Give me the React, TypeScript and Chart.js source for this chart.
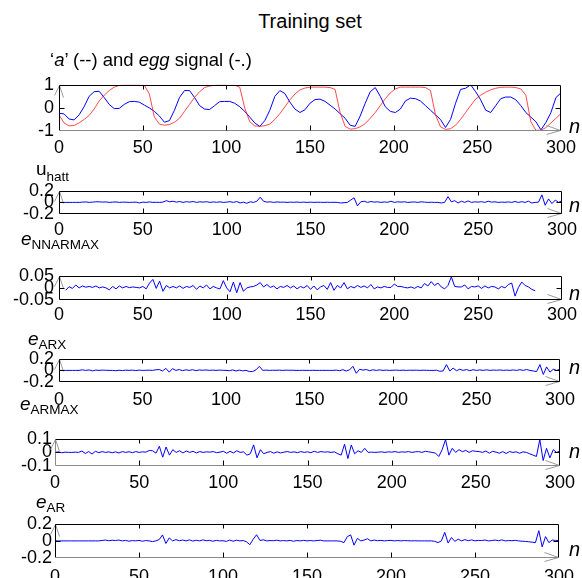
import React, { useEffect, useRef } from "react";
import { Chart, registerables } from "chart.js";
Chart.register(...registerables);

const FONT = "'Liberation Sans', Arial, Helvetica, sans-serif";

const xTicks = [0, 50, 100, 150, 200, 250, 300];

// top panel sample positions (every 3rd sample)
const nA = [0,3,6,9,12,15,18,21,24,27,30,33,36,39,42,45,48,51,54,57,60,63,66,69,72,75,78,81,84,87,90,93,96,99,102,105,108,111,114,117,120,123,126,129,132,135,138,141,144,147,150,153,156,159,162,165,168,171,174,177,180,183,186,189,192,195,198,201,204,207,210,213,216,219,222,225,228,231,234,237,240,243,246,249,252,255,258,261,264,267,270,273,276,279,282,285,288,291,294,297,300];

const eggSignal = [
  -0.23,-0.26,-0.48,-0.52,-0.3,0.05,0.5,0.7,0.72,0.45,
  0.15,-0.03,-0.02,0.15,0.27,0.28,0.25,0.12,0.0,-0.15,
  -0.35,-0.62,-0.55,-0.1,0.45,0.75,0.75,0.45,0.1,-0.05,
  -0.07,0.1,0.27,0.28,0.28,0.2,0.05,-0.15,-0.4,-0.65,
  -0.8,-0.55,-0.1,0.5,0.75,0.62,0.25,-0.05,-0.2,-0.08,
  0.2,0.36,0.38,0.28,0.12,-0.05,-0.25,-0.45,-0.75,-0.8,
  -0.35,0.2,0.7,0.88,0.5,0.05,-0.15,-0.2,-0.05,0.3,
  0.42,0.4,0.3,0.1,-0.1,-0.3,-0.5,-0.85,-0.5,0.2,
  0.8,0.85,1.0,0.7,0.35,-0.1,-0.2,0.1,0.4,0.47,
  0.47,0.35,0.1,-0.2,-0.4,-0.6,-0.95,-0.63,-0.2,0.45,
  0.65
];

const aSignal = [
  -0.3,-0.65,-0.78,-0.76,-0.65,-0.5,-0.33,-0.05,0.3,0.55,
  0.75,0.9,0.97,1.0,1.0,1.0,1.0,0.98,0.6,-0.4,
  -0.7,-0.75,-0.72,-0.62,-0.45,-0.15,0.15,0.45,0.7,0.88,
  0.95,0.98,1.0,1.0,0.98,0.98,0.9,0.0,-0.6,-0.78,
  -0.8,-0.77,-0.7,-0.5,-0.25,0.05,0.35,0.6,0.78,0.86,
  0.9,0.9,0.9,0.9,0.88,0.8,-0.2,-0.8,-0.92,-0.9,
  -0.82,-0.68,-0.45,-0.2,0.1,0.4,0.65,0.82,0.9,0.9,
  0.9,0.9,0.9,0.88,0.75,-0.3,-0.82,-0.93,-0.9,-0.75,
  -0.5,-0.2,0.1,0.38,0.55,0.68,0.78,0.85,0.89,0.9,
  0.9,0.88,0.82,0.55,-0.6,-0.97,-0.97,-0.85,-0.65,-0.45,
  -0.24
];

// error panels sample positions (every 2nd sample)
const nE = [0,2,4,6,8,10,12,14,16,18,20,22,24,26,28,30,32,34,36,38,40,42,44,46,48,50,52,54,56,58,60,62,64,66,68,70,72,74,76,78,80,82,84,86,88,90,92,94,96,98,100,102,104,106,108,110,112,114,116,118,120,122,124,126,128,130,132,134,136,138,140,142,144,146,148,150,152,154,156,158,160,162,164,166,168,170,172,174,176,178,180,182,184,186,188,190,192,194,196,198,200,202,204,206,208,210,212,214,216,218,220,222,224,226,228,230,232,234,236,238,240,242,244,246,248,250,252,254,256,258,260,262,264,266,268,270,272,274,276,278,280,282,284,286,288,290,292,294,296,298,300];

const uHatt = [
  0,0,0,0,0,0,0,0.005,0.008,0,
  0.005,0.01,0.01,0.005,0.008,0,0.005,0.008,0,0.005,
  0.003,0,0.002,0.005,-0.01,0.005,0,0.008,0,0.002,
  0,0.005,0.03,0.01,0.02,0.005,0.015,0,0.012,0.005,
  0.015,0,0.01,0.005,0.012,0,0.008,0.002,0.01,0,
  0.005,0.012,0,0.015,-0.01,0.005,-0.015,0.01,0,0.02,
  0.09,0.02,0.005,0.01,0,0.008,0.003,0.005,0,0.005,
  0.002,0.006,0,0.005,0,0.004,0,0.003,0.002,0,
  0.003,0,0.002,0,-0.01,-0.005,0,0.04,0.08,-0.06,
  0.01,0.02,0,0.015,0.005,0.01,0,0.008,0.002,0.02,
  0,0.01,0.005,0.01,0,0.005,0.008,0,0.01,0.005,
  0,0.003,0,0,-0.01,0,0.1,0.01,0.03,-0.01,
  0.02,0,0.025,0,0.01,0.005,0.012,0,0.02,0.005,
  0.01,0,0.005,0.002,0.008,0,0.015,0,0.012,0,
  0.02,-0.01,0,0.005,0.13,-0.05,0.06,-0.02,0.04,0,
  0.03
];

const nNN = nE.slice(2, 143);
const eNNARMAX = [
  -0.01,0.005,-0.002,0.012,0,0.008,0.003,0.006,0.002,0.008,
  0,0.004,0,-0.008,0.006,-0.004,0.008,0,0.006,0.001,
  0.004,0.002,0,0.006,-0.004,0.02,0.035,-0.002,0.028,-0.014,
  0.01,0,0.006,0,0.008,-0.002,0.006,0.002,0.01,-0.006,
  0.008,0,0.012,-0.004,0.006,0,-0.004,0.03,0,-0.016,
  0.024,-0.02,0.022,-0.014,0,0.004,0.006,0.012,0.022,0.004,
  0.014,0.002,0.008,-0.004,0.006,0.002,0.01,0,0.008,-0.004,
  0.006,0,0.01,-0.006,0.008,-0.008,0.004,0.01,-0.006,0.022,
  -0.01,0.01,0,0.022,-0.004,0.006,0,0.01,0.002,0.008,
  0,0.014,-0.004,0.004,0,0.006,0.002,0.002,0.016,0.006,
  0.006,0.002,0,0.004,-0.002,0.006,0,0.018,0.008,0.026,
  0.01,0.02,0.004,-0.004,0.01,0.046,0.006,0.004,0.004,0.012,
  -0.004,0.006,0.004,0.008,-0.002,0.008,0,0.006,0.004,-0.004,
  0.006,0,0.014,0.02,-0.034,0.002,0.024,0.01,0.004,-0.006,
  -0.012
];

const eARX = [
  0,0,0,0,0,0,0,0.01,0,0.008,
  -0.008,0.005,0,0.005,0.002,0,0,-0.005,0.003,-0.003,
  0.004,0,0.004,-0.002,0.005,0,0.002,0.004,0,0.01,
  0.015,-0.01,0.035,-0.03,0.03,0,0.015,-0.005,0.01,0,
  0.012,-0.005,0.008,0.002,0.008,0,0.005,0,0.005,0.002,
  0,-0.005,0.008,-0.01,0.005,-0.008,0,-0.02,-0.02,0.01,
  0.07,0,0.005,0,0.003,0.002,0.004,0,0.004,0.002,
  0.003,0,0,0.002,0,0,0.002,0,0,0.001,
  0,0,0,0.005,-0.005,0.012,-0.01,0.01,0.07,-0.05,
  0.02,0.005,0.015,-0.005,0.01,0,0.008,0,0.005,0,
  0.003,0.005,0,0.004,0,0.003,0.002,0.004,0,0.003,
  0.002,0,0,0.003,-0.015,-0.01,0.1,-0.01,0.04,-0.005,
  0.02,0,0.015,-0.005,0.012,0,0.008,0,0.01,0,
  0.006,0.002,0.008,0,0.005,0,0.008,0,0.012,0,
  0.015,0,-0.01,-0.02,0.1,-0.07,0.06,-0.03,0.02,0,
  0.02
];

const eARMAX = [
  0,0.004,-0.003,0.002,0,0,0.002,0,0.01,-0.008,
  0.006,-0.012,0.008,-0.002,0.006,0,0.004,-0.003,0.004,-0.004,
  0.006,0,0.005,-0.002,0.006,0,0.004,0.002,0.014,0.012,
  -0.006,0.045,-0.035,0.04,-0.02,0.02,0,0.012,-0.004,0.01,
  0,0.008,-0.004,0.006,0,0.004,0.002,0.006,-0.002,0.002,
  0.008,-0.006,0.008,-0.004,0.012,0,0.004,-0.02,-0.01,0.055,
  -0.04,0.02,-0.01,0,0.006,-0.006,0.004,-0.004,0.002,0.006,
  0,0.004,-0.002,0.006,0,0.004,-0.002,0.008,0,0.006,
  0.002,0.004,0,0.004,-0.01,-0.02,0.06,-0.045,0.055,-0.01,
  0.012,0,0.03,0,0.002,0,0.002,0.004,0,0.004,
  0.002,0.006,0,0.004,0.002,0.006,0,0.004,0.006,0,
  0.008,0.004,0,-0.005,-0.03,0.02,0.095,-0.02,0.03,0,
  0.02,0.005,0.015,0,0.012,0.008,0.006,0,0.01,-0.006,
  0.008,0.002,-0.006,0.006,-0.008,0.006,0,0.004,-0.006,0.004,
  0,-0.01,-0.02,-0.03,0.095,-0.06,0.03,-0.04,0.02,0,
  0.01
];

const eAR = [
  0,0,0,0,0,0,0,0,0,0,
  0,0,0,0,0.005,0.01,0.002,0.008,0.004,0.01,
  0,0.006,-0.004,0.004,0,0.006,-0.004,0.004,0,-0.008,
  0,0.015,0.07,-0.03,0.035,0,0.015,0.002,0.01,0,
  0.012,-0.002,0.008,0,0.012,0.002,0.006,-0.004,0.006,0,
  0.002,-0.006,0.01,-0.004,0.008,0,0.004,-0.01,-0.045,0.02,
  0.072,0.005,0.012,0,0.004,0.002,0.008,0,0.004,0,
  0.006,-0.004,0.004,0,0.006,0,0.004,0,0.004,0.008,
  0,0,0,0,0,-0.005,-0.02,0.05,0.07,-0.05,
  0.03,0,0.01,0.025,0,0.01,0.002,0.006,0,0.004,
  0.006,0,0.004,0,0.004,0.002,0,0.002,0,0,
  0,0,0,-0.005,-0.02,0,0.1,-0.025,0.04,-0.005,
  0.02,0,0.015,0.002,0.012,0,0.006,0.004,0.01,0,
  0.004,0.01,0.002,0.012,0,0.004,0.002,0.006,0,-0.004,
  -0.006,-0.01,-0.015,-0.02,0.12,-0.07,0.05,-0.02,0.01,0.005,
  0.005
];

const BLUE = "#0000ff";
const RED = "rgba(255,30,30,0.8)";

const decoPlugin = {
  id: "deco",
  afterDatasetsDraw(chart: any, _args: any, opts: any) {
    const { ctx, chartArea: a, scales } = chart;
    const xs = scales.x, ys = scales.y;
    const L = Math.round(a.left) + 0.5, R = Math.round(a.right) - 0.5;
    const T = Math.round(a.top) + 0.5, B = Math.round(a.bottom) - 0.5;
    ctx.save();
    ctx.lineWidth = 1;
    // gray axis arrows
    ctx.strokeStyle = "#9a9a9a";
    ctx.beginPath();
    ctx.moveTo(L - 5, T + 10); ctx.lineTo(L, T); ctx.lineTo(L + 4, T + 12);
    ctx.moveTo(R - 14, B - 5); ctx.lineTo(R, B); ctx.lineTo(R - 14, B + 4);
    ctx.stroke();
    // box
    ctx.strokeStyle = "#000";
    ctx.beginPath();
    ctx.moveTo(L, T); ctx.lineTo(R, T); ctx.lineTo(R, B);
    ctx.stroke();
    ctx.strokeStyle = opts.leftColor || "#000";
    ctx.beginPath(); ctx.moveTo(L, T); ctx.lineTo(L, B); ctx.stroke();
    ctx.strokeStyle = opts.bottomColor || "#000";
    ctx.beginPath(); ctx.moveTo(L, B); ctx.lineTo(R, B); ctx.stroke();
    // tick marks
    ctx.strokeStyle = "#000";
    ctx.beginPath();
    xTicks.slice(1, -1).forEach((v) => {
      const px = Math.round(xs.getPixelForValue(v)) + 0.5;
      ctx.moveTo(px, B); ctx.lineTo(px, B - 5);
      ctx.moveTo(px, T); ctx.lineTo(px, T + 4);
    });
    const py = Math.round(ys.getPixelForValue(0)) + 0.5;
    ctx.moveTo(L, py); ctx.lineTo(L + 5, py);
    ctx.moveTo(R, py); ctx.lineTo(R - 5, py);
    ctx.stroke();
    ctx.restore();
  },
};

type Series = { n: number[]; v: number[]; color: string };
type PanelCfg = {
  left: number; right: number; top: number; bottom: number;
  yMin: number; yMax: number; yTicks: number[];
  xPad: number; yPad: number;
  bottomColor?: string; leftColor?: string;
  series: Series[];
};

const PAD_TOP = 12;
const PAD_BOTTOM = 34;

function Panel({ cfg }: { cfg: PanelCfg }) {
  const ref = useRef<HTMLCanvasElement | null>(null);
  useEffect(() => {
    if (!ref.current) return;
    const chart = new Chart(ref.current, {
      type: "line",
      data: {
        datasets: cfg.series.map((s) => ({
          data: s.n.map((n, i) => ({ x: n, y: s.v[i] })),
          borderColor: s.color,
          borderWidth: 1,
          pointRadius: 0,
          fill: false,
          tension: 0,
        })),
      },
      options: {
        animation: false,
        responsive: false,
        events: [],
        layout: { padding: { top: PAD_TOP, right: 582 - cfg.right, left: 0, bottom: 0 } },
        plugins: {
          legend: { display: false },
          tooltip: { enabled: false },
          deco: { bottomColor: cfg.bottomColor, leftColor: cfg.leftColor },
        } as any,
        scales: {
          x: {
            type: "linear",
            min: 0,
            max: 300,
            grid: { display: false, drawTicks: false },
            border: { display: false },
            ticks: {
              font: { family: FONT, size: 18 },
              color: "#000",
              padding: cfg.xPad,
              maxRotation: 0,
              autoSkip: false,
              callback: (v: any) => String(v),
            },
            afterBuildTicks: (s: any) => {
              s.ticks = xTicks.map((v) => ({ value: v }));
            },
            afterFit: (s: any) => {
              s.height = PAD_BOTTOM;
            },
          },
          y: {
            type: "linear",
            min: cfg.yMin,
            max: cfg.yMax,
            grid: { display: false, drawTicks: false },
            border: { display: false },
            ticks: {
              font: { family: FONT, size: 18 },
              color: "#000",
              padding: cfg.yPad,
              autoSkip: false,
              callback: (v: any) => String(v),
            },
            afterBuildTicks: (s: any) => {
              s.ticks = cfg.yTicks.map((v) => ({ value: v }));
            },
            afterFit: (s: any) => {
              s.width = cfg.left;
            },
          },
        },
      } as any,
      plugins: [decoPlugin as any],
    });
    return () => chart.destroy();
  }, []);
  const h = cfg.bottom - cfg.top + PAD_TOP + PAD_BOTTOM;
  return (
    <canvas
      ref={ref}
      width={582}
      height={h}
      style={{ position: "absolute", left: 0, top: cfg.top - PAD_TOP, width: 582, height: h }}
    />
  );
}

function Txt({ x, base, size, italic, center, children }: any) {
  return (
    <div
      style={{
        position: "absolute",
        left: x,
        top: base - 0.85 * size,
        fontSize: size,
        lineHeight: 1,
        fontFamily: FONT,
        fontStyle: italic ? "italic" : "normal",
        whiteSpace: "nowrap",
        color: "#000",
        transform: center ? "translateX(-50%)" : undefined,
      }}
    >
      {children}
    </div>
  );
}

function Sub({ main, sub, x, base, shift, upright }: any) {
  return (
    <Txt x={x} base={base} size={19}>
      <span style={{ fontStyle: upright ? "normal" : "italic" }}>{main}</span>
      <span style={{ fontSize: 13.5, position: "relative", top: shift, fontStyle: "normal" }}>{sub}</span>
    </Txt>
  );
}

const panels: PanelCfg[] = [
  {
    left: 59, right: 562, top: 81, bottom: 131, yMin: -1, yMax: 1, yTicks: [-1, 0, 1],
    xPad: 6, yPad: 5, bottomColor: "#8a8a8a",
    series: [
      { n: nA, v: aSignal, color: RED },
      { n: nA, v: eggSignal, color: BLUE },
    ],
  },
  {
    left: 59, right: 562, top: 187, bottom: 214, yMin: -0.2, yMax: 0.2, yTicks: [-0.2, 0, 0.2],
    xPad: 5, yPad: 5,
    series: [{ n: nE, v: uHatt, color: BLUE }],
  },
  {
    left: 59, right: 562, top: 272, bottom: 300, yMin: -0.05, yMax: 0.05, yTicks: [-0.05, 0, 0.05],
    xPad: 4, yPad: 5,
    series: [{ n: nNN, v: eNNARMAX, color: BLUE }],
  },
  {
    left: 59, right: 562, top: 355, bottom: 382, yMin: -0.2, yMax: 0.2, yTicks: [-0.2, 0, 0.2],
    xPad: 7, yPad: 5,
    series: [{ n: nE, v: eARX, color: BLUE }],
  },
  {
    left: 55, right: 560, top: 437, bottom: 466, yMin: -0.1, yMax: 0.1, yTicks: [-0.1, 0, 0.1],
    xPad: 6, yPad: 3, leftColor: "#8a8a8a", bottomColor: "#8a8a8a",
    series: [{ n: nE, v: eARMAX, color: BLUE }],
  },
  {
    left: 55, right: 560, top: 522, bottom: 558, yMin: -0.2, yMax: 0.2, yTicks: [-0.2, 0, 0.2],
    xPad: 8, yPad: 3, bottomColor: "#8a8a8a",
    series: [{ n: nE, v: eAR, color: BLUE }],
  },
];

const nBaselines = [133, 212, 300, 374, 458, 556];

export default function App() {
  return (
    <div
      style={{
        position: "absolute",
        left: 0,
        top: 0,
        width: 582,
        height: 578,
        overflow: "hidden",
        background: "#fff",
      }}
    >
      {panels.map((p, i) => (
        <Panel key={i} cfg={p} />
      ))}
      <Txt x={310} base={28} size={20} center>
        Training set
      </Txt>
      <Txt x={50} base={67} size={18.5}>
        ‘<i>a</i>’ (--) and <i>egg</i> signal (-.)
      </Txt>
      <Sub main="u" sub="hatt" x={36} base={175} shift={6} upright />
      <Sub main="e" sub="NNARMAX" x={21} base={245} shift={4} />
      <Sub main="e" sub="ARX" x={28} base={345} shift={4} />
      <Sub main="e" sub="ARMAX" x={20} base={410} shift={4} />
      <Sub main="e" sub="AR" x={36} base={508} shift={4} />
      {nBaselines.map((b, i) => (
        <Txt key={i} x={569} base={b} size={20} italic>
          n
        </Txt>
      ))}
    </div>
  );
}
